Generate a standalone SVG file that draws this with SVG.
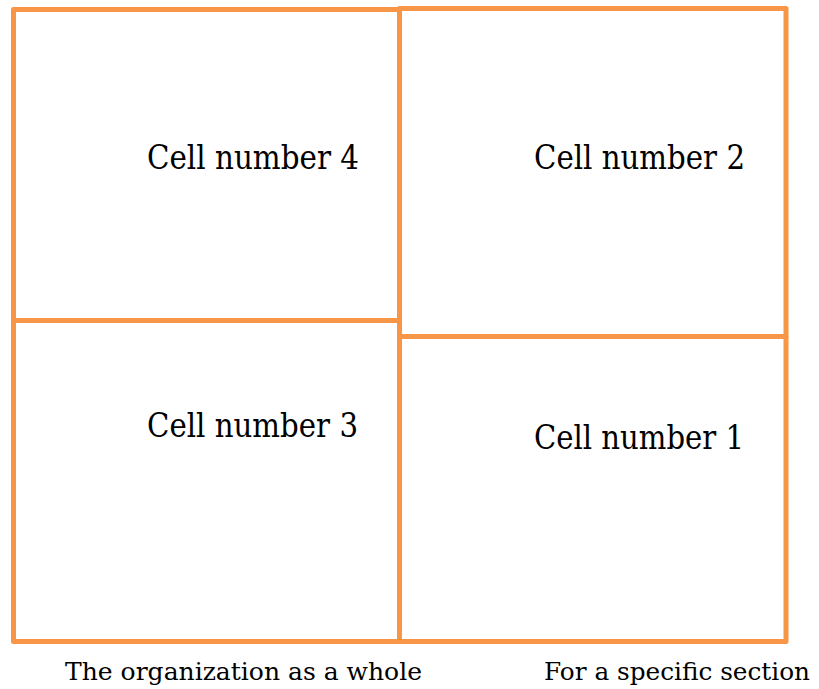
<svg xmlns="http://www.w3.org/2000/svg" width="819" height="689" viewBox="0 0 819 689">
  <style>
    .cell { fill: #ffffff; stroke: #f79646; stroke-width: 5; stroke-linejoin: round; }
    .label { font-family: "DejaVu Serif", "Liberation Serif", serif; font-size: 33px; fill: #000000; }
    .caption { font-family: "DejaVu Serif", "Liberation Serif", serif; font-size: 24.5px; fill: #000000; }
  </style>
  <rect width="819" height="689" fill="#ffffff"/>
  <!-- left column: whole organization -->
  <g id="cell4">
    <rect class="cell" x="13.5" y="9.5" width="386" height="311"/>
    <text class="label" x="147" y="169" textLength="212" lengthAdjust="spacingAndGlyphs">Cell number 4</text>
  </g>
  <g id="cell3">
    <rect class="cell" x="13.5" y="320.5" width="386" height="321"/>
    <text class="label" x="147" y="437" textLength="211" lengthAdjust="spacingAndGlyphs">Cell number 3</text>
  </g>
  <!-- right column: specific section -->
  <g id="cell2">
    <rect class="cell" x="399.5" y="8.5" width="386.5" height="328"/>
    <text class="label" x="534" y="169" textLength="211" lengthAdjust="spacingAndGlyphs">Cell number 2</text>
  </g>
  <g id="cell1">
    <rect class="cell" x="399.5" y="336.5" width="386.5" height="305"/>
    <text class="label" x="534" y="449" textLength="210" lengthAdjust="spacingAndGlyphs">Cell number 1</text>
  </g>
  <g id="connectors"></g>
  <g id="captions">
    <text class="caption" x="65" y="680" textLength="357" lengthAdjust="spacingAndGlyphs">The organization as a whole</text>
    <text class="caption" x="544" y="680" textLength="266" lengthAdjust="spacingAndGlyphs">For a specific section</text>
  </g>
</svg>
